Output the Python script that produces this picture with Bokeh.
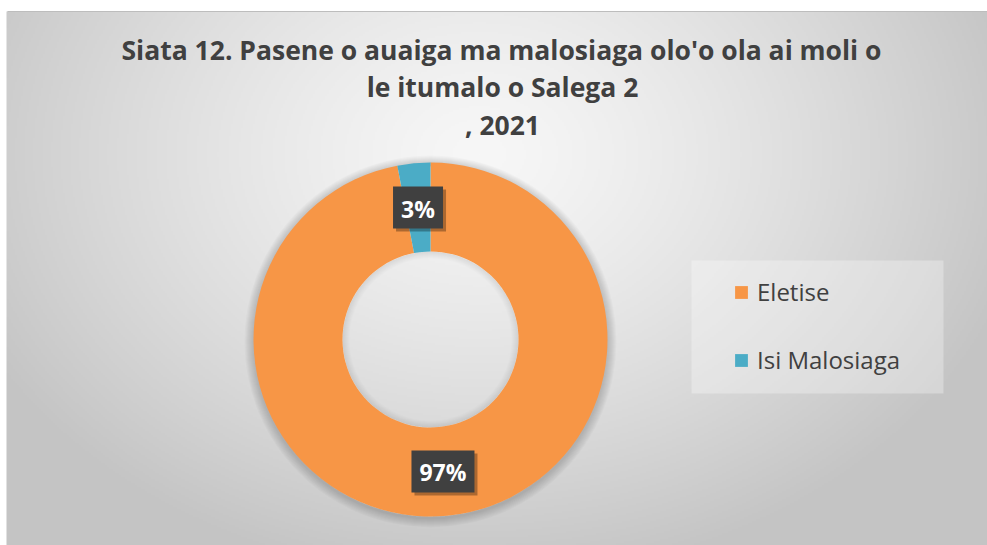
import numpy as np
from bokeh.plotting import figure
from bokeh.models import (ColumnDataSource, Range1d, Legend, LegendItem, Label,
                          BoxAnnotation)
from bokeh.embed import file_html
from bokeh.resources import INLINE
from bokeh.core.properties import value

# ---- data ----
categories = ["Eletise", "Isi Malosiaga"]
shares = [97, 3]
colors = ["#F79646", "#4BACC6"]
title_lines = ["Siata 12. Pasene o auaiga ma malosiaga olo'o ola ai moli o",
               "le itumalo o Salega 2",
               ", 2021"]

FONT = "Open Sans"
W, H = 987, 545
p = figure(width=W, height=H, output_backend="svg", toolbar_location=None,
           x_range=Range1d(0, W), y_range=Range1d(0, H), min_border=0,
           border_fill_color="white", background_fill_color="white")
p.axis.visible = False
p.grid.visible = False
p.outline_line_color = None

# ---- background radial gradient (decoration) ----
gh, gw = (H + 1) // 2, (W + 1) // 2
yy, xx = np.mgrid[0:gh, 0:gw]
px = xx * 2.0
py = yy * 2.0
cx, cy = 478.0, 390.0
d = np.sqrt(((px - cx) / 560.0) ** 2 + ((py - cy) / 430.0) ** 2)
d = np.clip(d, 0, 1)
c0, c1 = 247.0, 196.0
g = (c0 + (c1 - c0) * d ** 1.3).astype(np.uint32)
img = (255 << 24) | (g << 16) | (g << 8) | g
img[(py >= 534) | (px < 6)] = 0xFFFFFFFF
p.image_rgba(image=[img.astype(np.uint32)], x=0, y=0, dw=gw * 2, dh=gh * 2)
p.segment(x0=[7], y0=[534], x1=[W], y1=[534], line_color="#bdbdbd", line_width=1)

# ---- donut ----
CX, CY, R_OUT, R_IN = 430, 206, 177, 88
total = float(sum(shares))
fr = np.array(shares) / total
ends = np.pi / 2 - np.cumsum(fr) * 2 * np.pi
starts = np.concatenate([[np.pi / 2], ends[:-1]])

for k in range(1, 10):
    p.annulus(x=[CX], y=[CY - 2], inner_radius=R_OUT - 2, outer_radius=R_OUT + k,
              fill_color="black", fill_alpha=0.018, line_color=None)
for k in range(1, 8):
    p.annulus(x=[CX], y=[CY], inner_radius=R_IN - k, outer_radius=R_IN,
              fill_color="black", fill_alpha=0.012, line_color=None)

src = ColumnDataSource(dict(cat=categories, share=shares, color=colors,
                            start=list(ends), end=list(starts)))
r = p.annular_wedge(x=CX, y=CY, inner_radius=R_IN, outer_radius=R_OUT,
                    start_angle="start", end_angle="end", fill_color="color",
                    line_color=None, source=src)

# ---- data labels ----
mid = (starts + ends) / 2
rm = (R_IN + R_OUT) / 2
lx = CX + rm * np.cos(mid)
ly = CY + rm * np.sin(mid)
labels = ["%d%%" % round(f * 100) for f in fr]
bw = [24 + 13 * len(t) for t in labels]
lab = ColumnDataSource(dict(x=list(lx), y=list(ly), sx=list(lx + 3), sy=list(ly - 3),
                            ty=list(ly - 1), w=bw, t=labels))
p.rect(x="sx", y="sy", width="w", height=42, fill_color="black", fill_alpha=0.3,
       line_color=None, source=lab)
p.rect(x="x", y="y", width="w", height=42, fill_color="#404040", line_color=None,
       source=lab)
p.text(x="x", y="ty", text="t", text_align="center", text_baseline="middle",
       text_color="white", text_font=value(FONT), text_font_style="bold",
       text_font_size="23px", source=lab)

# ---- legend ----
p.add_layout(BoxAnnotation(left=691, right=943, bottom=152, top=285,
                           fill_color="white", fill_alpha=0.3, line_color=None))
legend = Legend(items=[LegendItem(label=c, renderers=[r], index=i)
                       for i, c in enumerate(categories)],
                location=(733, 169), padding=0, margin=0, spacing=35,
                glyph_width=16, glyph_height=16, label_standoff=8,
                label_text_font=FONT, label_text_font_size="24px",
                label_text_color="#404040", background_fill_alpha=0,
                border_line_color=None)
p.add_layout(legend, "center")

# ---- title ----
title_y = [H - 49, H - 86, H - 124]
title_x = [501, 502, 502]
for t, tx, ty in zip(title_lines, title_x, title_y):
    p.add_layout(Label(x=tx, y=ty, text=t, text_align="center",
                       text_baseline="alphabetic", text_color="#404040",
                       text_font=FONT, text_font_style="bold",
                       text_font_size="26.5px"))

open("out.html", "w").write(file_html(p, INLINE))
